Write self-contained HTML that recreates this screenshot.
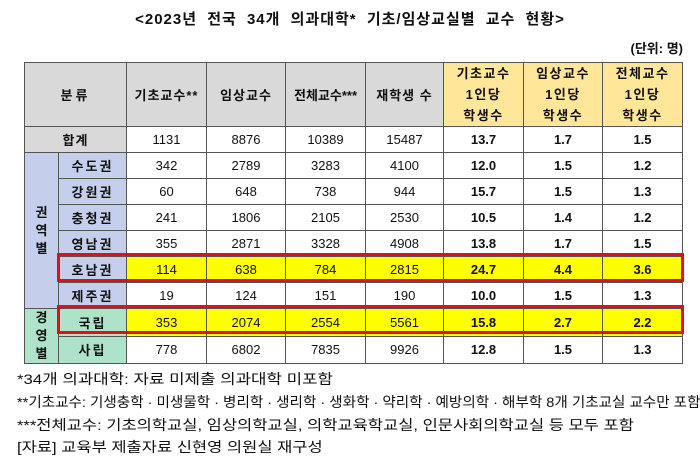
<!DOCTYPE html>
<html><head><meta charset="utf-8">
<style>
body{margin:0;width:700px;height:466px;background:#fff;font-family:"Liberation Sans","Noto Sans CJK KR",sans-serif;position:relative;overflow:hidden;color:#111}
.title{position:absolute;left:0;width:700px;top:8px;text-align:center;font-weight:bold;font-size:15px;letter-spacing:1px;word-spacing:5px}
.unit{position:absolute;right:17px;top:38px;font-weight:bold;font-size:13px}
table{position:absolute;left:24px;top:62px;border-collapse:collapse;table-layout:fixed;font-size:13px}
td{border:1px solid #555;text-align:center;padding:0;height:25px;white-space:nowrap}
.h{background:#d9d9d9;font-weight:bold;letter-spacing:1px;height:61px}
.hy{background:#ffe699;font-weight:bold;letter-spacing:1.5px;line-height:21px}
.b{font-weight:bold}
.reg{background:#c5cfec;font-weight:bold;letter-spacing:2px}
.grn{background:#aee3c9;font-weight:bold;letter-spacing:2px}
.yl td{background:#ffff00}
.vert{line-height:18px;letter-spacing:0}
.box{position:absolute;border:3px solid #e0101a;box-sizing:border-box}
.fn{position:absolute;left:17px;font-size:14px;white-space:nowrap;transform-origin:left center}
</style></head><body>
<div class="title">&lt;2023년 전국 34개 의과대학* 기초/임상교실별 교수 현황&gt;</div>
<div class="unit">(단위: 명)</div>
<table>
<colgroup><col style="width:34px"><col style="width:68px"><col style="width:80px"><col style="width:79px"><col style="width:80px"><col style="width:78px"><col style="width:80px"><col style="width:79px"><col style="width:80px"></colgroup>
<tr><td class="h" colspan="2" style="letter-spacing:3px">분류</td><td class="h">기초교수**</td><td class="h">임상교수</td><td class="h" style="letter-spacing:0">전체교수***</td><td class="h">재학생 수</td><td class="hy">기초교수<br>1인당<br>학생수</td><td class="hy">임상교수<br>1인당<br>학생수</td><td class="hy">전체교수<br>1인당<br>학생수</td></tr>
<tr><td class="h" colspan="2" style="height:25px">합계</td><td>1131</td><td>8876</td><td>10389</td><td>15487</td><td class="b">13.7</td><td class="b">1.7</td><td class="b">1.5</td></tr>
<tr><td class="reg vert" rowspan="6" style="background:#c5cfec">권<br>역<br>별</td><td class="reg">수도권</td><td>342</td><td>2789</td><td>3283</td><td>4100</td><td class="b">12.0</td><td class="b">1.5</td><td class="b">1.2</td></tr>
<tr><td class="reg">강원권</td><td>60</td><td>648</td><td>738</td><td>944</td><td class="b">15.7</td><td class="b">1.5</td><td class="b">1.3</td></tr>
<tr><td class="reg">충청권</td><td>241</td><td>1806</td><td>2105</td><td>2530</td><td class="b">10.5</td><td class="b">1.4</td><td class="b">1.2</td></tr>
<tr><td class="reg">영남권</td><td>355</td><td>2871</td><td>3328</td><td>4908</td><td class="b">13.8</td><td class="b">1.7</td><td class="b">1.5</td></tr>
<tr class="yl"><td class="reg" style="background:#c5cfec">호남권</td><td>114</td><td>638</td><td>784</td><td>2815</td><td class="b">24.7</td><td class="b">4.4</td><td class="b">3.6</td></tr>
<tr><td class="reg">제주권</td><td>19</td><td>124</td><td>151</td><td>190</td><td class="b">10.0</td><td class="b">1.5</td><td class="b">1.3</td></tr>
<tr class="yl"><td class="grn vert" rowspan="2" style="background:#aee3c9">경<br>영<br>별</td><td class="grn" style="background:#aee3c9">국립</td><td>353</td><td>2074</td><td>2554</td><td>5561</td><td class="b">15.8</td><td class="b">2.7</td><td class="b">2.2</td></tr>
<tr><td class="grn">사립</td><td>778</td><td>6802</td><td>7835</td><td>9926</td><td class="b">12.8</td><td class="b">1.5</td><td class="b">1.3</td></tr>
</table>
<div class="box" style="left:57px;top:253px;width:627px;height:29px"></div>
<div class="box" style="left:57px;top:305px;width:627px;height:29px"></div>
<div class="fn" style="top:369px;transform:scaleX(1.2)">*34개 의과대학: 자료 미제출 의과대학 미포함</div>
<div class="fn" style="top:392px;transform:scaleX(1.04)">**기초교수: 기생충학 · 미생물학 · 병리학 · 생리학 · 생화학 · 약리학 · 예방의학 · 해부학 8개 기초교실 교수만 포함</div>
<div class="fn" style="top:415px;transform:scaleX(1.18)">***전체교수: 기초의학교실, 임상의학교실, 의학교육학교실, 인문사회의학교실 등 모두 포함</div>
<div class="fn" style="top:437px;transform:scaleX(1.18)">[자료] 교육부 제출자료 신현영 의원실 재구성</div>
</body></html>
